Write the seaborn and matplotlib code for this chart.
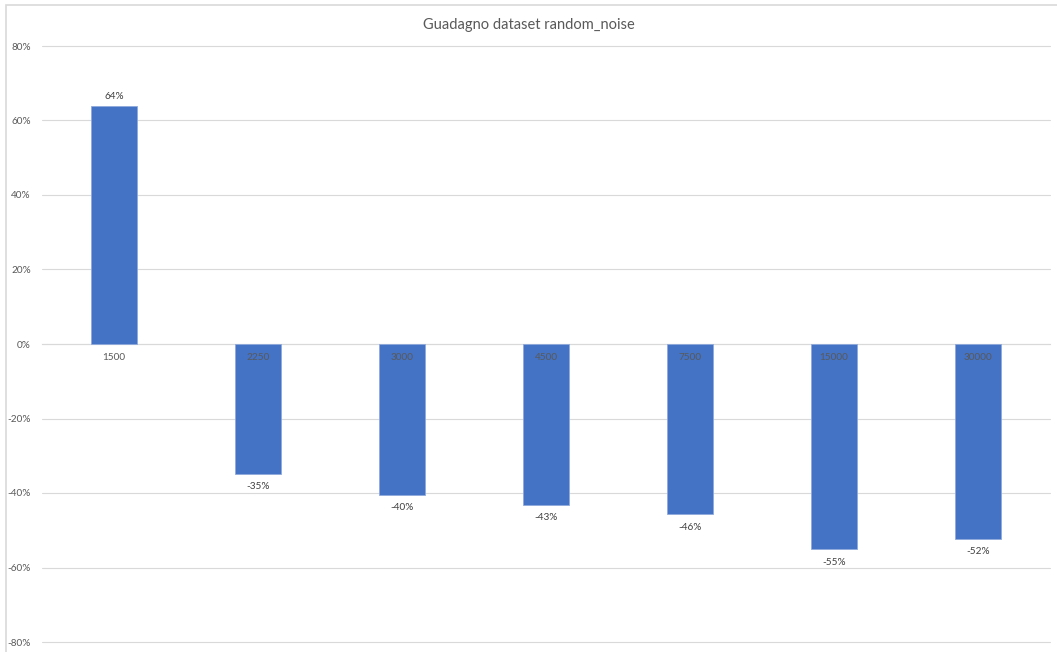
import matplotlib
matplotlib.use("Agg")
import matplotlib.pyplot as plt
import seaborn as sns
import pandas as pd
from matplotlib.patches import Rectangle
from matplotlib.ticker import FuncFormatter, MultipleLocator

categories = ["1500", "2250", "3000", "4500", "7500", "15000", "30000"]
gains = [0.638, -0.349, -0.405, -0.431, -0.457, -0.551, -0.523]
labels = ["64%", "-35%", "-40%", "-43%", "-46%", "-55%", "-52%"]
title = "Guadagno dataset random_noise"

sns.set_theme(style="white")
plt.rcParams["font.family"] = ["Lato", "DejaVu Sans"]

df = pd.DataFrame({"cat": categories, "gain": gains})

fig = plt.figure(figsize=(10.57, 6.52), dpi=100)
ax = fig.add_axes([42 / 1057, 1 - 642 / 652, (1050 - 42) / 1057, (642 - 46) / 652])

sns.barplot(data=df, x="cat", y="gain", order=categories, color="#4472C4",
            saturation=1, width=0.32, edgecolor="#8FAADC", linewidth=0.6, ax=ax)

ax.set_ylim(-0.8, 0.8)
ax.yaxis.set_major_locator(MultipleLocator(0.2))
ax.yaxis.set_major_formatter(FuncFormatter(lambda v, p: f"{v*100:.0f}%"))
ax.grid(axis="y", color="#D9D9D9", linewidth=0.8)
ax.set_axisbelow(True)
for line in ax.get_ygridlines():
    line.set_clip_on(False)
for s in ["top", "right", "left"]:
    ax.spines[s].set_visible(False)
ax.spines["bottom"].set_position(("data", 0))
ax.spines["bottom"].set_color("#D9D9D9")
ax.spines["bottom"].set_linewidth(0.8)
ax.spines["bottom"].set_zorder(0.6)
ax.xaxis.set_zorder(3)
ax.tick_params(axis="x", length=0, pad=6.5, labelsize=7.2, labelcolor="#595959")
ax.tick_params(axis="y", length=0, pad=8, labelsize=7.2, labelcolor="#595959")
ax.set_xlabel("")
ax.set_ylabel("")
ax.set_xlim(-0.5, len(categories) - 0.5)

for i, (v, lab) in enumerate(zip(gains, labels)):
    if v >= 0:
        ax.annotate(lab, (i, v), xytext=(0, 3.5), textcoords="offset points",
                    ha="center", va="bottom", fontsize=7.2, color="#404040")
    else:
        ax.annotate(lab, (i, v), xytext=(0, -6), textcoords="offset points",
                    ha="center", va="top", fontsize=7.2, color="#404040")

fig.text(0.5, 1 - 25 / 652, title, ha="center", va="center", fontsize=10.5, color="#595959")

fig.patches.append(Rectangle((6 / 1057, -0.05), 1.2, 1 - 5 / 652 + 0.05,
                             transform=fig.transFigure, fill=False,
                             edgecolor="#D9D9D9", linewidth=1.2))

fig.savefig("out.png", dpi=100)
